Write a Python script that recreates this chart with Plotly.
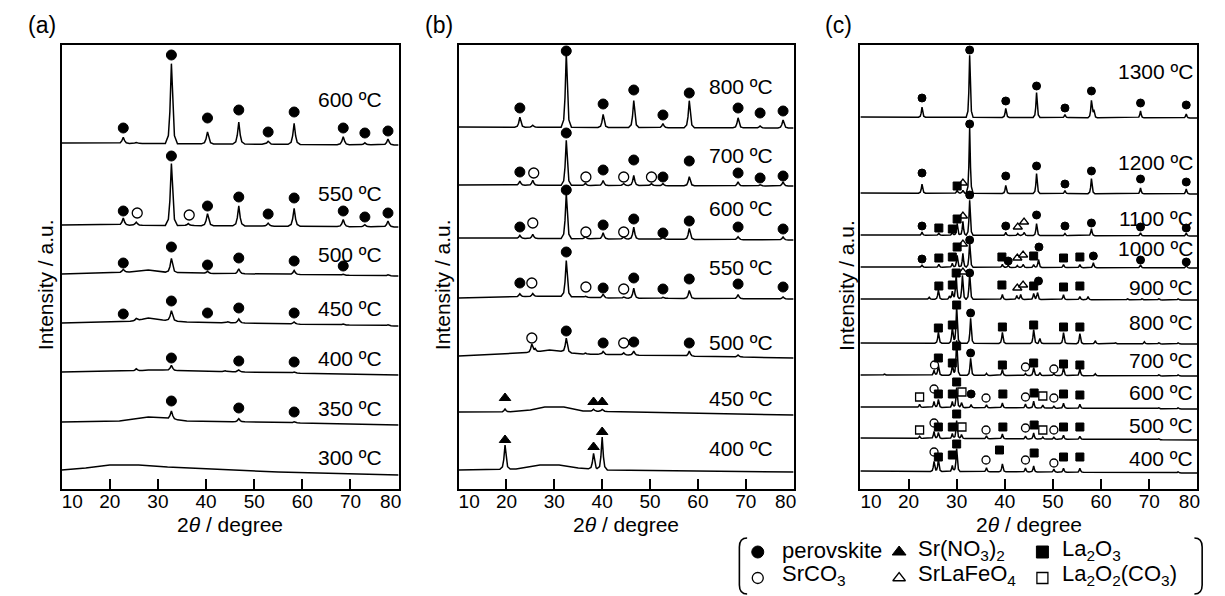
import numpy as np
import plotly.graph_objects as go

FONT = "Arial, Liberation Sans, sans-serif"

# ---------------- data ----------------
X_TICKS = [10, 20, 30, 40, 50, 60, 70, 80]
TICK_TEXT = ["\u00a0\u00a0\u00a0\u00a010", "20", "30", "40", "50", "60", "70", "80\u00a0\u00a0\u00a0"]

PHASE_NAMES = {
    "P": "perovskite",
    "N": "Sr(NO<sub>3</sub>)<sub>2</sub>",
    "L": "La<sub>2</sub>O<sub>3</sub>",
    "S": "SrCO<sub>3</sub>",
    "T": "SrLaFeO<sub>4</sub>",
    "C": "La<sub>2</sub>O<sub>2</sub>(CO<sub>3</sub>)",
}

# panel (a)
A_TEMPS = ["600 ºC", "550 ºC", "500 ºC", "450 ºC", "400 ºC", "350 ºC", "300 ºC"]
A_BASE = [346, 264, 215, 166, 117, 67, 19]
A_LABEL = [44, 32, 20, 15, 14, 14, 13]
A_BG = [
    [(10, 0), (80, -2)],
    [(10, 0), (20, 0), (80, -2)],
    [(10, 0), (20, 1), (24, 2), (28, 4), (31, 2), (36, 1), (80, -2)],
    [(10, 0), (22, 1), (25, 2), (28, 5), (31, 3), (36, 1), (80, -3)],
    [(10, 0), (25, 1), (28, 2), (31, 2), (36, 1), (80, -3)],
    [(10, 0), (22, 1), (28, 5), (31, 4), (36, 1), (50, 0), (80, -3)],
    [(10, 0), (15, 2), (20, 5), (26, 5), (32, 3), (45, 0), (55, -2), (80, -5)],
]
A_PEAKS = [
    [(22.8, 6), (25.5, 1), (32.8, 80), (40.3, 12), (46.8, 22), (52.9, 3), (58.3, 21), (68.5, 8), (73.0, 2), (77.8, 6)],
    [(22.8, 7), (25.5, 3), (32.8, 62), (36.3, 2), (40.3, 12), (46.8, 20), (52.9, 3), (58.3, 18), (68.5, 7), (73.0, 2), (77.8, 6)],
    [(22.8, 3), (32.8, 14), (40.3, 2), (46.8, 5), (58.3, 4), (68.5, 1), (77.8, 1)],
    [(25.5, 2), (32.8, 10), (44.5, 1), (46.8, 4), (58.3, 2), (68.5, 1), (77.8, 1)],
    [(25.5, 2), (32.8, 5), (44.0, 1), (46.8, 2), (58.3, 1)],
    [(32.8, 8), (46.8, 3), (58.3, 1)],
    [],
]
A_MARKS = [
    [("P", 22.8, 15), ("P", 32.8, 88), ("P", 40.3, 25), ("P", 46.8, 33), ("P", 52.9, 11), ("P", 58.3, 31), ("P", 68.5, 15), ("P", 73.0, 10), ("P", 77.8, 12)],
    [("P", 22.8, 14), ("S", 25.7, 12), ("P", 32.8, 69), ("S", 36.5, 10), ("P", 40.3, 19), ("P", 46.8, 28), ("P", 52.9, 11), ("P", 58.3, 27), ("P", 68.5, 14), ("P", 73.0, 8), ("P", 77.8, 12)],
    [("P", 22.8, 11), ("P", 32.8, 27), ("P", 40.3, 9), ("P", 46.8, 16), ("P", 58.3, 13), ("P", 68.5, 8)],
    [("P", 22.8, 9), ("P", 32.8, 22), ("P", 40.3, 10), ("P", 46.8, 15), ("P", 58.3, 10)],
    [("P", 32.8, 14), ("P", 46.8, 11), ("P", 58.3, 10)],
    [("P", 32.8, 21), ("P", 46.8, 14), ("P", 58.3, 10)],
    [],
]

# panel (b)
B_TEMPS = ["800 ºC", "700 ºC", "600 ºC", "550 ºC", "500 ºC", "450 ºC", "400 ºC"]
B_BASE = [362, 304, 251, 191, 135, 77, 19]
B_LABEL = [41, 30, 30, 31, 12, 14, 22]
B_BG = [
    [(10, 0), (80, -1)],
    [(10, 0), (80, -1)],
    [(10, 0), (80, -2)],
    [(10, 0), (20, 1), (30, 2), (40, 0), (80, -1)],
    [(10, -2), (20, 0), (26, 2), (29, 4), (31, 3), (35, 0), (80, -4)],
    [(10, 0), (20, 0), (25, 2), (28, 5), (32, 5), (36, 1), (80, -3)],
    [(10, 0), (22, 1), (27, 5), (31, 5), (35, 2), (40, 0), (80, -2)],
]
B_PEAKS = [
    [(22.8, 10), (25.5, 2), (32.5, 74), (40.2, 13), (46.6, 27), (52.7, 4), (58.2, 27), (68.4, 10), (73.0, 2), (77.8, 8)],
    [(22.8, 4), (25.5, 5), (32.5, 45), (36.5, 2), (40.2, 5), (44.5, 2), (46.6, 10), (50.3, 2), (52.7, 2), (58.2, 9), (68.4, 4), (73.0, 1), (77.8, 4)],
    [(22.8, 3), (25.5, 4), (32.5, 45), (36.5, 2), (40.2, 6), (44.5, 2), (46.6, 12), (52.7, 2), (58.2, 11), (68.4, 3), (77.8, 3)],
    [(22.8, 3), (25.5, 3), (32.5, 36), (36.5, 1), (40.2, 4), (44.5, 1), (46.6, 10), (52.7, 1), (58.2, 8), (68.4, 4), (77.8, 2)],
    [(25.3, 8), (26.0, 3), (32.5, 14), (36.5, 1), (40.2, 3), (44.5, 2), (46.6, 4), (58.2, 5), (68.4, 2)],
    [(19.7, 3), (38.2, 2), (40.0, 2)],
    [(19.7, 24), (38.2, 16), (40.0, 33)],
]
B_MARKS = [
    [("P", 22.8, 19), ("P", 32.5, 76), ("P", 40.2, 23), ("P", 46.6, 37), ("P", 52.7, 12), ("P", 58.2, 34), ("P", 68.4, 19), ("P", 73.0, 14), ("P", 77.8, 16)],
    [("P", 22.8, 13), ("S", 25.7, 12), ("P", 32.5, 52), ("S", 36.6, 8), ("P", 40.2, 15), ("S", 44.5, 8), ("P", 46.6, 25), ("S", 50.3, 8), ("P", 52.7, 8), ("P", 58.2, 24), ("P", 68.4, 12), ("P", 73.0, 7), ("P", 77.8, 9)],
    [("P", 22.8, 11), ("S", 25.5, 15), ("P", 32.5, 48), ("S", 36.6, 6), ("P", 40.2, 13), ("S", 44.5, 6), ("P", 46.6, 19), ("P", 52.7, 5), ("P", 58.2, 17), ("P", 68.4, 11), ("P", 77.8, 9)],
    [("P", 22.8, 15), ("S", 25.3, 15), ("P", 32.5, 46), ("S", 36.6, 11), ("P", 40.2, 10), ("S", 44.5, 9), ("P", 46.6, 20), ("P", 52.7, 9), ("P", 58.2, 19), ("P", 68.4, 14), ("P", 77.8, 11)],
    [("S", 25.3, 16), ("P", 32.5, 23), ("P", 40.2, 11), ("S", 44.5, 11), ("P", 46.6, 12), ("P", 58.2, 11)],
    [("N", 19.7, 14), ("N", 38.2, 10), ("N", 40.0, 10)],
    [("N", 19.7, 30), ("N", 38.2, 23), ("N", 40.0, 38)],
]

# panel (c)
C_TEMPS = ["1300 ºC", "1200 ºC", "1100 ºC", "1000 ºC", "900 ºC", "800 ºC", "700 ºC", "600 ºC", "500 ºC", "400 ºC"]
C_BASE = [372, 296, 254, 222, 190, 146, 114, 82, 51, 18]
C_LABEL = [46, 31, 17, 19, 12, 21, 15, 15, 13, 13]
C_BG = [
    [(10, 0), (80, -1)],
    [(10, 0), (80, -1)],
    [(10, 0), (80, -1)],
    [(10, 0), (80, -1)],
    [(10, 0), (80, -1)],
    [(10, 0), (80, -1)],
    [(10, 0), (80, -1)],
    [(10, 0), (80, -2)],
    [(10, 0), (80, -2)],
    [(10, 0), (80, -2)],
]
C_PEAKS = [
    [(22.8, 10), (32.7, 62), (40.2, 9), (46.6, 25), (52.5, 3), (58.0, 17), (58.5, 7), (68.2, 7), (77.7, 4)],
    [(22.8, 9), (30.1, 3), (31.3, 3), (32.7, 66), (40.2, 8), (46.6, 20), (52.5, 3), (58.0, 15), (68.2, 6), (77.7, 5)],
    [(22.8, 3), (26.3, 2), (29.1, 3), (30.1, 12), (31.3, 14), (32.7, 35), (40.2, 3), (42.7, 2), (44.0, 3), (46.6, 12), (52.5, 2), (58.0, 7), (68.2, 3), (77.7, 3)],
    [(22.8, 2), (26.3, 3), (29.1, 4), (30.1, 12), (31.3, 14), (32.7, 25), (39.5, 3), (40.7, 2), (42.6, 2), (43.8, 3), (46.0, 3), (47.0, 8), (52.2, 3), (55.6, 3), (58.4, 5), (68.2, 3), (77.7, 3)],
    [(24.3, 2), (26.2, 9), (28.5, 3), (29.1, 8), (29.9, 25), (31.2, 24), (32.7, 26), (39.5, 5), (42.5, 4), (43.3, 5), (46.0, 6), (46.8, 7), (52.2, 5), (55.6, 3), (57.3, 3), (65.5, 1), (68.5, 1), (72.0, 1), (76.0, 1)],
    [(26.2, 11), (29.1, 16), (30.0, 37), (32.9, 25), (39.5, 11), (46.0, 14), (47.3, 5), (52.2, 11), (55.6, 10), (58.8, 3), (63.0, 1), (69.0, 2), (72.0, 1), (76.0, 1)],
    [(15.0, 1), (25.3, 5), (26.2, 10), (29.1, 10), (30.0, 35), (32.9, 17), (36.2, 2), (39.5, 6), (44.3, 2), (46.0, 8), (47.3, 3), (50.2, 2), (52.2, 8), (55.6, 7), (58.8, 2), (72.0, 1), (76.0, 1)],
    [(22.3, 3), (25.3, 6), (26.2, 8), (29.1, 6), (30.0, 20), (31.0, 5), (33.0, 3), (36.2, 3), (39.5, 5), (44.3, 4), (46.0, 7), (47.9, 3), (50.2, 2), (52.2, 5), (55.6, 4), (72.0, 1), (76.0, 1)],
    [(22.3, 2), (25.3, 7), (26.2, 6), (29.1, 5), (30.0, 18), (31.0, 4), (36.2, 3), (39.5, 5), (44.3, 3), (46.0, 6), (47.9, 2), (50.2, 2), (52.2, 4), (55.6, 3), (72.0, 1)],
    [(25.3, 10), (26.2, 12), (29.1, 6), (30.0, 23), (36.2, 4), (39.5, 8), (44.3, 4), (46.0, 6), (50.2, 3), (52.2, 4), (55.6, 4), (76.0, 1)],
]
C_MARKS = [
    [("P", 22.8, 19), ("P", 32.7, 67), ("P", 40.2, 16), ("P", 46.6, 31), ("P", 52.5, 9), ("P", 58.0, 26), ("P", 68.2, 14), ("P", 77.7, 12)],
    [("P", 22.8, 20), ("L", 30.1, 7), ("T", 31.3, 10), ("P", 32.7, 69), ("P", 40.2, 17), ("P", 46.6, 27), ("P", 52.5, 9), ("P", 58.0, 22), ("P", 68.2, 14), ("P", 77.7, 11)],
    [("P", 22.8, 9), ("L", 26.3, 7), ("L", 29.1, 6), ("L", 30.1, 16), ("T", 31.3, 19), ("P", 32.7, 40), ("P", 40.2, 9), ("T", 42.7, 8), ("T", 44.0, 13), ("P", 46.6, 20), ("P", 52.5, 9), ("P", 58.0, 12), ("P", 68.2, 8), ("P", 77.7, 7)],
    [("P", 22.8, 8), ("L", 26.3, 9), ("L", 29.1, 10), ("L", 30.1, 20), ("T", 31.3, 23), ("P", 32.7, 27), ("L", 39.4, 10), ("P", 40.7, 6), ("T", 42.6, 9), ("T", 43.8, 12), ("L", 46.0, 11), ("P", 47.1, 20), ("L", 52.2, 9), ("L", 55.6, 10), ("P", 58.4, 11), ("P", 68.2, 7), ("P", 77.7, 5)],
    [("L", 26.3, 13), ("L", 29.1, 14), ("L", 29.9, 26), ("T", 31.3, 27), ("P", 32.7, 26), ("L", 39.4, 14), ("T", 42.6, 11), ("T", 43.8, 14), ("L", 46.0, 13), ("P", 47.0, 18), ("L", 52.2, 12), ("L", 55.6, 13)],
    [("L", 26.2, 15), ("L", 29.1, 18), ("L", 30.0, 38), ("P", 32.9, 30), ("L", 39.5, 16), ("L", 46.0, 18), ("L", 52.2, 16), ("L", 55.6, 16)],
    [("S", 25.4, 10), ("L", 26.2, 17), ("L", 29.1, 12), ("L", 30.0, 29), ("P", 32.9, 22), ("L", 39.5, 10), ("S", 44.3, 8), ("L", 46.0, 12), ("S", 50.2, 6), ("L", 52.2, 11), ("L", 55.6, 10)],
    [("C", 22.3, 10), ("S", 25.3, 18), ("L", 26.2, 13), ("L", 29.1, 13), ("L", 30.0, 25), ("C", 31.1, 15), ("P", 33.0, 13), ("S", 36.1, 9), ("L", 39.6, 13), ("S", 44.3, 10), ("L", 46.1, 14), ("C", 47.9, 11), ("S", 50.2, 9), ("L", 52.2, 13), ("L", 55.6, 12)],
    [("C", 22.3, 8), ("S", 25.3, 15), ("L", 26.2, 11), ("L", 29.1, 11), ("L", 30.0, 24), ("C", 31.1, 11), ("S", 36.1, 8), ("L", 39.6, 11), ("S", 44.3, 10), ("L", 46.1, 13), ("C", 47.9, 8), ("S", 50.2, 8), ("L", 52.2, 11), ("L", 55.6, 11)],
    [("S", 25.3, 19), ("L", 26.2, 14), ("L", 29.1, 16), ("L", 30.0, 27), ("S", 36.1, 11), ("L", 38.9, 21), ("S", 44.3, 11), ("L", 46.1, 18), ("S", 50.2, 8), ("L", 52.2, 14), ("L", 55.6, 14)],
]

# ---------------- styling ----------------
W, H = 1225, 596
Y_DOM = [1 - 489 / H, 1 - 45 / H]
PANELS = [
    dict(n="", label="(a)", temps=A_TEMPS, base=A_BASE, lab=A_LABEL, bg=A_BG, peaks=A_PEAKS, marks=A_MARKS,
         dom=[42 / W, 390 / W], pw=1.05, ms=10, lx=77.0),
    dict(n="2", label="(b)", temps=B_TEMPS, base=B_BASE, lab=B_LABEL, bg=B_BG, peaks=B_PEAKS, marks=B_MARKS,
         dom=[452 / W, 798 / W], pw=0.9, ms=10, lx=76.2),
    dict(n="3", label="(c)", temps=C_TEMPS, base=C_BASE, lab=C_LABEL, bg=C_BG, peaks=C_PEAKS, marks=C_MARKS,
         dom=[867 / W, 1215 / W], pw=0.6, ms=8, lx=79.6),
]
PROF_OFF = [-1.2, -0.6, -0.3, 0.0, 0.3, 0.6, 1.2]
PROF_FRAC = [0.0, 0.1, 0.4, 1.0, 0.4, 0.1, 0.0]

SYM = {
    "P": dict(symbol="circle", color="black", line=dict(color="black", width=1)),
    "S": dict(symbol="circle", color="white", line=dict(color="black", width=1.3)),
    "N": dict(symbol="triangle-up", color="black", line=dict(color="black", width=1)),
    "T": dict(symbol="triangle-up", color="white", line=dict(color="black", width=1.3)),
    "L": dict(symbol="square", color="black", line=dict(color="black", width=1)),
    "C": dict(symbol="square", color="white", line=dict(color="black", width=1.3)),
}

fig = go.Figure()
annotations = []
layout_axes = {}

for p in PANELS:
    xa, ya = "x" + p["n"], "y" + p["n"]
    # pattern lines
    for base, bg, peaks in zip(p["base"], p["bg"], p["peaks"]):
        bx = [b[0] for b in bg]
        by = [b[1] for b in bg]
        xs = set(bx)
        for pos, h in peaks:
            for o in PROF_OFF:
                xs.add(round(pos + o * p["pw"], 4))
        xs = np.array(sorted(x for x in xs if 10 <= x <= 80))
        ys = base + np.interp(xs, bx, by)
        for pos, h in peaks:
            ys = ys + h * np.interp((xs - pos) / p["pw"], PROF_OFF, PROF_FRAC, left=0, right=0)
        fig.add_trace(go.Scatter(x=xs, y=ys, xaxis=xa, yaxis=ya, mode="lines",
                                 line=dict(color="black", width=1.5), showlegend=False, hoverinfo="skip"))
    # phase markers
    for code, st in SYM.items():
        mx, my = [], []
        for base, marks in zip(p["base"], p["marks"]):
            for c, pos, rel in marks:
                if c == code:
                    mx.append(pos)
                    my.append(base + rel)
        if mx:
            fig.add_trace(go.Scatter(x=mx, y=my, xaxis=xa, yaxis=ya, mode="markers",
                                     marker=dict(size=p["ms"], **st), showlegend=False, hoverinfo="skip"))
    # temperature labels
    for t, base, lab in zip(p["temps"], p["base"], p["lab"]):
        annotations.append(dict(x=p["lx"], y=base + lab, xref=xa, yref=ya, text=t, showarrow=False,
                                xanchor="right", yanchor="middle", font=dict(size=21, family=FONT, color="black")))
    layout_axes["xaxis" + p["n"]] = dict(
        domain=p["dom"], range=[10, 80], tickmode="array", tickvals=X_TICKS, ticktext=TICK_TEXT,
        ticks="inside", ticklen=10, tickwidth=1.5, tickcolor="black", showline=True, linecolor="black",
        linewidth=1.6, mirror=True, showgrid=False, zeroline=False, anchor=ya, fixedrange=True,
        ticklabelstandoff=-6,
        tickfont=dict(size=19, family=FONT, color="black"))
    layout_axes["yaxis" + p["n"]] = dict(
        domain=Y_DOM, range=[0, 444], showticklabels=False, ticks="", showline=True, linecolor="black",
        linewidth=1.6, mirror=True, showgrid=False, zeroline=False, anchor=xa, fixedrange=True)

# overlay frame in figure pixels for panel labels, titles and the phase key
layout_axes["xaxis4"] = dict(domain=[0, 1], range=[0, W], visible=False, anchor="y4", fixedrange=True)
layout_axes["yaxis4"] = dict(domain=[0, 1], range=[H, 0], visible=False, anchor="x4", fixedrange=True)

PANEL_LABEL_X = [22, 432, 844]
YTITLE_X = [25, 435, 852]
XTITLE_X = [216, 625, 1041]
for i, p in enumerate(PANELS):
    annotations.append(dict(x=PANEL_LABEL_X[i], y=25, xref="x4", yref="y4", text=p["label"], showarrow=False,
                            font=dict(size=23, family=FONT, color="black")))
    annotations.append(dict(x=YTITLE_X[i], y=285, xref="x4", yref="y4", text="Intensity / a.u.", showarrow=False,
                            textangle=-90, font=dict(size=21, family=FONT, color="black")))
    annotations.append(dict(x=XTITLE_X[i], y=524, xref="x4", yref="y4", text="2<i>θ</i> / degree", showarrow=False,
                            font=dict(size=21, family=FONT, color="black")))

# phase key
KEY_ROWS = [["P", "N", "L"], ["S", "T", "C"]]
KEY_Y = [552, 578]
KEY_TY = [550, 575]
KEY_MX = [761, 907, 1055]
KEY_TX = [784, 924, 1073]
for r, row in enumerate(KEY_ROWS):
    for c, code in enumerate(row):
        st = SYM[code]
        fig.add_trace(go.Scatter(x=[KEY_MX[c]], y=[KEY_Y[r]], xaxis="x4", yaxis="y4", mode="markers",
                                 marker=dict(size=12 if st["color"] == "black" else 11, **st),
                                 showlegend=False, hoverinfo="skip"))
        annotations.append(dict(x=KEY_TX[c], y=KEY_TY[r], xref="x4", yref="y4", text=PHASE_NAMES[code],
                                showarrow=False, xanchor="left", yanchor="middle",
                                font=dict(size=22, family=FONT, color="black")))

shapes = [
    dict(type="path", xref="x4", yref="y4", path="M 750 538 Q 742 538 742 547 L 742 585 Q 742 594 750 594",
         line=dict(color="black", width=1.6)),
    dict(type="path", xref="x4", yref="y4", path="M 1212 538 Q 1220 538 1220 547 L 1220 585 Q 1220 594 1212 594",
         line=dict(color="black", width=1.6)),
]

fig.update_layout(
    width=W, height=H, margin=dict(l=0, r=0, t=0, b=0),
    paper_bgcolor="white", plot_bgcolor="rgba(0,0,0,0)",
    showlegend=False, annotations=annotations, shapes=shapes,
    font=dict(family=FONT, color="black"),
    **layout_axes,
)

fig.write_html("out.html", config={"displayModeBar": False},
               post_script="document.body.style.margin='0';document.body.style.padding='0';")
